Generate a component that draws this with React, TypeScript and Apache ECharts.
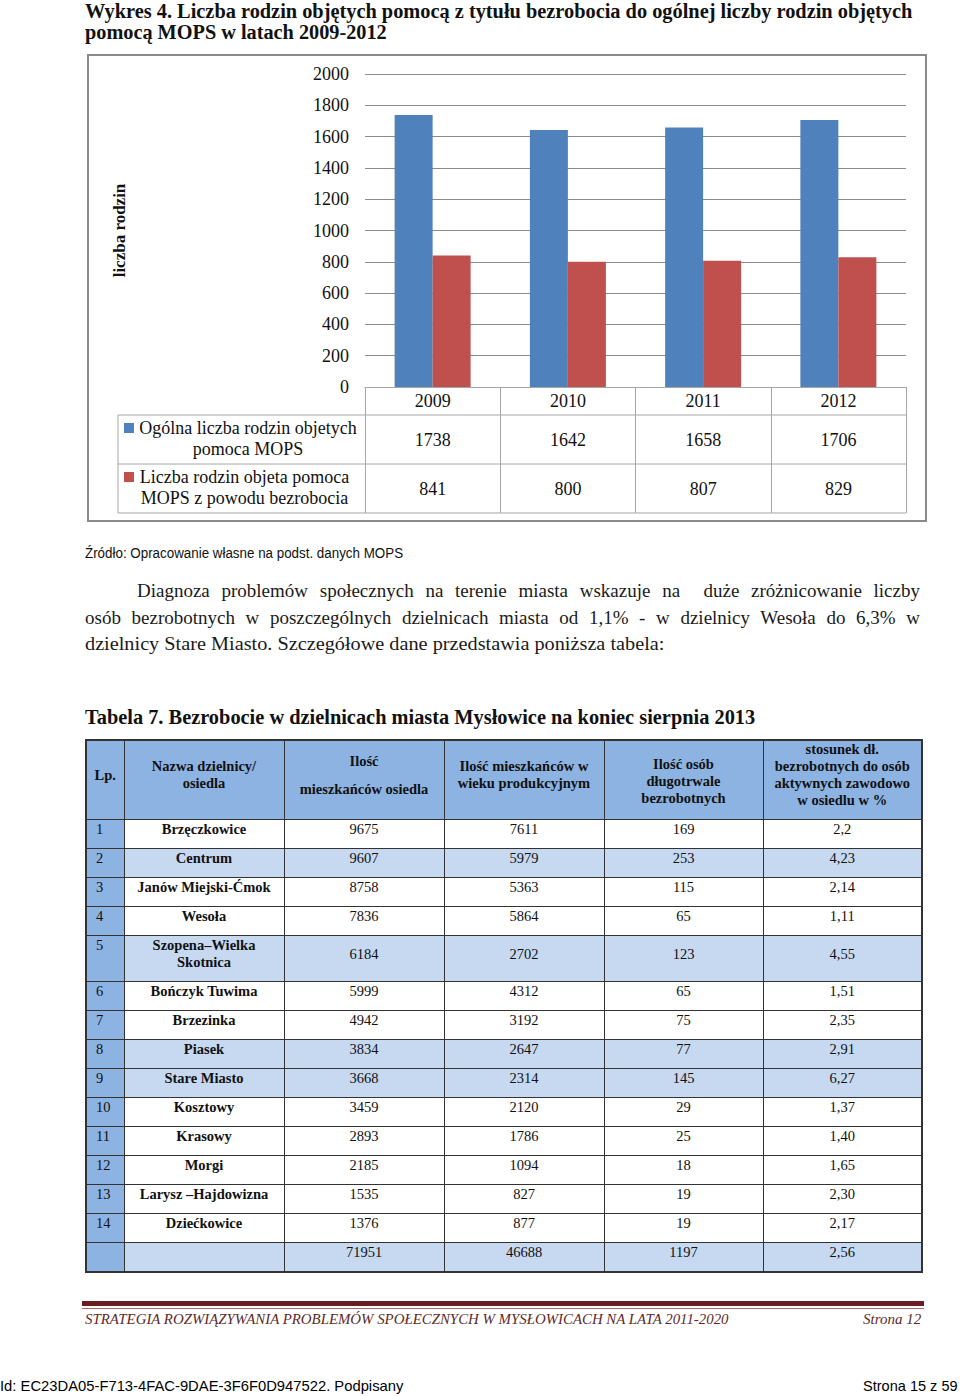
import React, { useEffect, useLayoutEffect, useRef } from "react";
import * as echarts from "echarts";

// ---------- chart data ----------
const years = ["2009", "2010", "2011", "2012"];
const totalFamilies = [1738, 1642, 1658, 1706];
const unemployedFamilies = [841, 800, 807, 829];
const seriesNames = [
  "Ogólna liczba rodzin objetych\npomoca MOPS",
  "Liczba rodzin objeta pomoca\nMOPS z powodu bezrobocia",
];
const yAxisName = "liczba rodzin";

// ---------- table data ----------
const lpNumbers = ["1", "2", "3", "4", "5", "6", "7", "8", "9", "10", "11", "12", "13", "14"];
const districts = [
  "Brzęczkowice",
  "Centrum",
  "Janów Miejski-Ćmok",
  "Wesoła",
  "Szopena–Wielka\nSkotnica",
  "Bończyk Tuwima",
  "Brzezinka",
  "Piasek",
  "Stare Miasto",
  "Kosztowy",
  "Krasowy",
  "Morgi",
  "Larysz –Hajdowizna",
  "Dziećkowice",
];
const residents = [9675, 9607, 8758, 7836, 6184, 5999, 4942, 3834, 3668, 3459, 2893, 2185, 1535, 1376];
const workingAge = [7611, 5979, 5363, 5864, 2702, 4312, 3192, 2647, 2314, 2120, 1786, 1094, 827, 877];
const longTermUnemployed = [169, 253, 115, 65, 123, 65, 75, 77, 145, 29, 25, 18, 19, 19];
const ratioPercent = ["2,2", "4,23", "2,14", "1,11", "4,55", "1,51", "2,35", "2,91", "6,27", "1,37", "1,40", "1,65", "2,30", "2,17"];
const totalsRow = ["71951", "46688", "1197", "2,56"];
const shadedRows = [1, 4, 7, 8];

const SERIF = "'Liberation Serif', 'Times New Roman', serif";
const SANS = "'Liberation Sans', Arial, sans-serif";

function FitText(props: { left: number; top: number; width: number; style?: React.CSSProperties; children: React.ReactNode }) {
  const ref = useRef<HTMLDivElement>(null);
  useLayoutEffect(() => {
    const el = ref.current;
    if (!el) return;
    el.style.transform = "none";
    const w = el.offsetWidth;
    if (w > 0) el.style.transform = `scaleX(${props.width / w})`;
  });
  return (
    <div
      ref={ref}
      style={{
        position: "absolute",
        left: props.left,
        top: props.top,
        whiteSpace: "nowrap",
        transformOrigin: "0 0",
        ...props.style,
      }}
    >
      {props.children}
    </div>
  );
}

function Chart() {
  const ref = useRef<HTMLDivElement>(null);
  useEffect(() => {
    if (!ref.current) return;
    const chart = echarts.init(ref.current, null, { renderer: "svg" });
    const W = 840;
    const H = 468;
    const gl = 278, gr = 21, gt = 20, gb = 135;
    const axisY = H - gb;
    const yearRowH = 28;
    const valRowH = 49;
    const row1Top = axisY + yearRowH;
    const row2Top = row1Top + valRowH;
    const rowBottom = row2Top + valRowH;
    const legendLeft = 31;
    const plotRight = W - gr;
    const lineColor = "#a6a6a6";
    const fontSize = 18;
    const colors = ["#4f81bd", "#c0504d"];

    chart.setOption({
      animation: false,
      grid: { left: gl, right: gr, top: gt, bottom: gb },
      xAxis: {
        type: "category",
        data: years,
        boundaryGap: true,
        axisLine: { show: true, lineStyle: { color: lineColor, width: 1 } },
        axisTick: { show: true, length: rowBottom - axisY, lineStyle: { color: lineColor, width: 1 } },
        axisLabel: {
          margin: 0,
          interval: 0,
          color: "#111",
          fontFamily: SERIF,
          fontSize,
          formatter: (v: string, i: number) => `{y|${v}}\n{a|${totalFamilies[i]}}\n{b|${unemployedFamilies[i]}}`,
          rich: {
            y: { lineHeight: yearRowH, fontSize, fontFamily: SERIF, color: "#111" },
            a: { lineHeight: valRowH, fontSize, fontFamily: SERIF, color: "#111" },
            b: { lineHeight: valRowH, fontSize, fontFamily: SERIF, color: "#111" },
          },
        },
      },
      yAxis: {
        type: "value",
        min: 0,
        max: 2000,
        interval: 200,
        name: yAxisName,
        nameLocation: "middle",
        nameGap: 237,
        nameTextStyle: { fontFamily: SERIF, fontSize: 17, fontWeight: "bold", color: "#111" },
        axisLine: { show: false },
        axisTick: { show: false },
        axisLabel: { margin: 16, color: "#111", fontFamily: SERIF, fontSize, formatter: (v: number) => String(v) },
        splitLine: { lineStyle: { color: "#8c8c8c", width: 1 } },
      },
      series: [
        { name: seriesNames[0], type: "bar", data: totalFamilies, barWidth: 38, barGap: "0%", itemStyle: { color: colors[0] } },
        { name: seriesNames[1], type: "bar", data: unemployedFamilies, barWidth: 38, barGap: "0%", itemStyle: { color: colors[1] } },
      ],
      graphic: [
        { type: "rect", shape: { x: 1, y: 1, width: W - 2, height: H - 2 }, style: { fill: "none", stroke: "#8a8a8a", lineWidth: 2 }, silent: true },
        { type: "line", shape: { x1: legendLeft, y1: row1Top, x2: plotRight, y2: row1Top }, style: { stroke: lineColor, lineWidth: 1 } },
        { type: "line", shape: { x1: legendLeft, y1: row2Top, x2: plotRight, y2: row2Top }, style: { stroke: lineColor, lineWidth: 1 } },
        { type: "line", shape: { x1: legendLeft, y1: rowBottom, x2: plotRight, y2: rowBottom }, style: { stroke: lineColor, lineWidth: 1 } },
        { type: "line", shape: { x1: legendLeft, y1: row1Top, x2: legendLeft, y2: rowBottom }, style: { stroke: lineColor, lineWidth: 1 } },
        { type: "rect", shape: { x: legendLeft + 6, y: row1Top + 8, width: 10, height: 10 }, style: { fill: colors[0] } },
        { type: "rect", shape: { x: legendLeft + 6, y: row2Top + 8, width: 10, height: 10 }, style: { fill: colors[1] } },
        {
          type: "text",
          x: 161,
          y: row1Top + 2.5,
          style: { text: seriesNames[0], fontFamily: SERIF, fontSize, fill: "#111", align: "center", verticalAlign: "top", lineHeight: 21 },
        },
        {
          type: "text",
          x: 157.5,
          y: row2Top + 2.5,
          style: { text: seriesNames[1], fontFamily: SERIF, fontSize, fill: "#111", align: "center", verticalAlign: "top", lineHeight: 21 },
        },
      ],
    });
    return () => chart.dispose();
  }, []);
  return <div ref={ref} style={{ position: "absolute", left: 87, top: 54, width: 840, height: 468 }} />;
}

function DataTable() {
  const border = "1px solid #333";
  const headBg = "#8db3e2";
  const lightBg = "#c6d9f1";
  const colW = [38, 160, 160, 160, 159, 159];
  const th: React.CSSProperties = {
    background: headBg,
    border,
    fontWeight: "bold",
    textAlign: "center",
    verticalAlign: "middle",
    padding: "0 3px 10px",
    lineHeight: "17px",
  };
  const td: React.CSSProperties = {
    border,
    textAlign: "center",
    verticalAlign: "middle",
    padding: "0 3px 9px",
    lineHeight: "17px",
  };
  const lpTd: React.CSSProperties = {
    ...td,
    background: headBg,
    textAlign: "left",
    verticalAlign: "top",
    paddingTop: 1,
    paddingLeft: 9,
  };
  const multi = (s: string) =>
    s.split("\n").map((p, i) => (
      <React.Fragment key={i}>
        {i > 0 && <br />}
        {p}
      </React.Fragment>
    ));
  return (
    <table
      style={{
        position: "absolute",
        left: 85,
        top: 739,
        width: 836,
        borderCollapse: "collapse",
        tableLayout: "fixed",
        fontFamily: SERIF,
        fontSize: 14.5,
        color: "#111",
        border: "2px solid #333",
      }}
    >
      <colgroup>
        {colW.map((w, i) => (
          <col key={i} style={{ width: w }} />
        ))}
      </colgroup>
      <tbody>
        <tr style={{ height: 78 }}>
          <th style={th}>Lp.</th>
          <th style={th}>{multi("Nazwa dzielnicy/\nosiedla")}</th>
          <th style={th}>
            Ilość
            <span style={{ display: "block", height: 11 }} />
            mieszkańców osiedla
          </th>
          <th style={th}>{multi("Ilość mieszkańców w\nwieku produkcyjnym")}</th>
          <th style={{ ...th, paddingTop: 12 }}>{multi("Ilość osób\ndługotrwale\nbezrobotnych")}</th>
          <th style={th}>{multi("stosunek dł.\nbezrobotnych do osób\naktywnych zawodowo\nw osiedlu  w %")}</th>
        </tr>
        {districts.map((d, i) => {
          const bg = shadedRows.includes(i) ? lightBg : "#fff";
          const h = d.includes("\n") ? 46 : 29;
          return (
            <tr key={i} style={{ height: h }}>
              <td style={lpTd}>{lpNumbers[i]}</td>
              <td style={{ ...td, background: bg, fontWeight: "bold" }}>{multi(d)}</td>
              <td style={{ ...td, background: bg }}>{residents[i]}</td>
              <td style={{ ...td, background: bg }}>{workingAge[i]}</td>
              <td style={{ ...td, background: bg }}>{longTermUnemployed[i]}</td>
              <td style={{ ...td, background: bg }}>{ratioPercent[i]}</td>
            </tr>
          );
        })}
        <tr style={{ height: 29 }}>
          <td style={lpTd}></td>
          <td style={{ ...td, background: lightBg }}></td>
          {totalsRow.map((t, i) => (
            <td key={i} style={{ ...td, background: lightBg }}>
              {t}
            </td>
          ))}
        </tr>
      </tbody>
    </table>
  );
}

export default function App() {
  const para: React.CSSProperties = {
    position: "absolute",
    fontFamily: SERIF,
    fontSize: 19,
    lineHeight: "26px",
    color: "#1a1a1a",
  };
  return (
    <div
      style={{
        position: "absolute",
        left: 0,
        top: 0,
        width: 960,
        height: 1396,
        background: "#fff",
        overflow: "hidden",
        fontFamily: SERIF,
        color: "#111",
      }}
    >
      <FitText left={85} top={1} width={827} style={{ fontSize: 20, fontWeight: "bold", lineHeight: "20px" }}>
        Wykres 4. Liczba rodzin objętych pomocą z tytułu bezrobocia do ogólnej liczby rodzin objętych
      </FitText>
      <FitText left={85} top={22} width={302} style={{ fontSize: 20, fontWeight: "bold", lineHeight: "20px" }}>
        pomocą MOPS w latach 2009-2012
      </FitText>

      <Chart />

      <FitText left={85} top={545} width={318} style={{ fontSize: 14, fontFamily: SANS, lineHeight: "16px", color: "#111" }}>
        Źródło: Opracowanie własne na podst. danych MOPS
      </FitText>

      <div style={{ ...para, left: 137, top: 578, width: 783, textAlign: "justify", textAlignLast: "justify" }}>
        Diagnoza problemów społecznych na terenie miasta wskazuje na&nbsp; duże zróżnicowanie liczby
      </div>
      <div style={{ ...para, left: 85, top: 605, width: 835, textAlign: "justify", textAlignLast: "justify" }}>
        osób bezrobotnych w poszczególnych dzielnicach miasta od 1,1% - w dzielnicy Wesoła do 6,3% w
      </div>
      <FitText left={85} top={631} width={579} style={{ fontSize: 19, lineHeight: "26px", color: "#1a1a1a" }}>
        dzielnicy Stare Miasto. Szczegółowe dane przedstawia poniższa tabela:
      </FitText>

      <FitText left={85} top={706} width={670} style={{ fontSize: 21, fontWeight: "bold", lineHeight: "22px" }}>
        Tabela 7. Bezrobocie w dzielnicach miasta Mysłowice na koniec sierpnia 2013
      </FitText>

      <DataTable />

      <div style={{ position: "absolute", left: 82, top: 1301, width: 842, height: 5, background: "#6b1e22" }} />
      <div style={{ position: "absolute", left: 82, top: 1308, width: 842, height: 1, background: "#b06a6a" }} />
      <FitText left={85} top={1311} width={644} style={{ fontSize: 15, fontStyle: "italic", lineHeight: "16px", color: "#5e2a2a" }}>
        STRATEGIA ROZWIĄZYWANIA PROBLEMÓW SPOŁECZNYCH W MYSŁOWICACH NA LATA 2011-2020
      </FitText>
      <FitText left={863} top={1311} width={58} style={{ fontSize: 15, fontStyle: "italic", lineHeight: "16px", color: "#5e2a2a" }}>
        Strona 12
      </FitText>

      <FitText left={0} top={1377} width={403} style={{ fontSize: 15, fontFamily: SANS, lineHeight: "17px", color: "#000" }}>
        Id: EC23DA05-F713-4FAC-9DAE-3F6F0D947522. Podpisany
      </FitText>
      <FitText left={863} top={1377} width={95} style={{ fontSize: 15, fontFamily: SANS, lineHeight: "17px", color: "#000" }}>
        Strona 15 z 59
      </FitText>
    </div>
  );
}
